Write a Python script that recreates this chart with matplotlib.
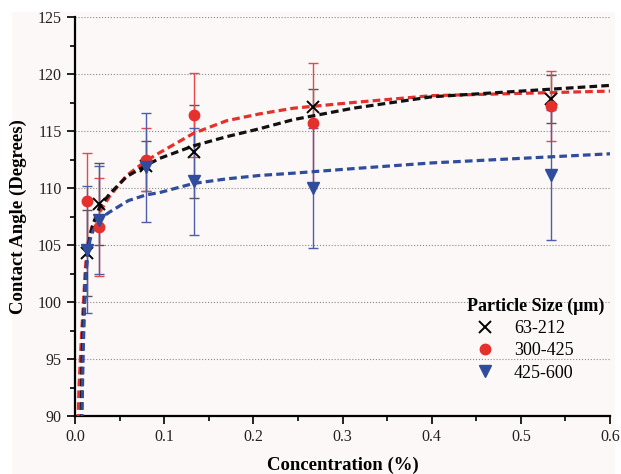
import numpy as np
import matplotlib
matplotlib.use("Agg")
import matplotlib.pyplot as plt
from matplotlib.patches import Rectangle
from matplotlib.ticker import MultipleLocator

plt.rcParams['font.family'] = ['Liberation Serif', 'DejaVu Serif']

# measured contact angles
conc = [0.0133, 0.0267, 0.08, 0.1333, 0.2667, 0.5333]
labels = ["63-212", "300-425", "425-600"]
angle_63 = [104.3, 108.6, 111.9, 113.2, 117.1, 117.8]
err_63 = [3.8, 3.6, 2.2, 4.1, 1.6, 2.1]
angle_300 = [108.9, 106.6, 112.5, 116.4, 115.7, 117.2]
err_300 = [4.2, 4.3, 2.8, 3.7, 5.3, 3.1]
angle_425 = [104.6, 107.2, 111.8, 110.6, 110.0, 111.1]
err_425 = [5.6, 4.7, 4.8, 4.7, 5.3, 5.7]

# fitted trend lines
fit_x_63 = [0.0071, 0.0078, 0.009, 0.0105, 0.012, 0.0135, 0.016, 0.02, 0.028, 0.039,
            0.058, 0.08, 0.095, 0.133, 0.17, 0.207, 0.245, 0.312, 0.4, 0.5, 0.6]
fit_y_63 = [89.5, 94.5, 97.8, 99.9, 102.0, 103.9, 105.4, 106.8, 108.4, 109.5,
            111.0, 112.0, 112.6, 113.7, 114.5, 115.2, 116.0, 117.0, 118.0, 118.5, 119.0]
fit_x_300 = [0.0034, 0.0045, 0.006, 0.008, 0.0097, 0.0115, 0.0134, 0.016, 0.02, 0.027,
             0.039, 0.058, 0.08, 0.095, 0.133, 0.17, 0.207, 0.245, 0.312, 0.4, 0.5, 0.6]
fit_y_300 = [89.5, 92.5, 95.0, 98.0, 100.2, 102.8, 104.6, 105.8, 106.8, 107.8,
             109.3, 111.1, 112.4, 113.1, 114.8, 115.9, 116.5, 117.0, 117.5, 118.1, 118.3, 118.5]
fit_x_425 = [0.0078, 0.0085, 0.0095, 0.011, 0.0125, 0.014, 0.017, 0.0205, 0.028, 0.039,
             0.06, 0.08, 0.095, 0.133, 0.17, 0.207, 0.245, 0.312, 0.4, 0.5, 0.6]
fit_y_425 = [89.5, 93.0, 96.5, 100.0, 102.6, 104.2, 105.5, 106.3, 107.3, 107.9,
             108.9, 109.4, 109.6, 110.4, 110.8, 111.1, 111.3, 111.7, 112.2, 112.6, 113.0]

fig = plt.figure(figsize=(6.21, 4.74), dpi=100, facecolor="white")
fig.patches.append(Rectangle((12 / 621, 0), 603 / 621, 462 / 474, transform=fig.transFigure,
                             facecolor="#fcf8f7", edgecolor="none", zorder=-10))
ax = fig.add_axes([75 / 621, 1 - 416 / 474, 535 / 621, 399 / 474])
ax.set_facecolor("#fcf8f7")

# error bars first
ax.errorbar(conc, angle_63, yerr=err_63, fmt="none", ecolor="#555555", elinewidth=1, capsize=3.5, zorder=2)
ax.errorbar(conc, angle_300, yerr=err_300, fmt="none", ecolor="#e8484a", elinewidth=1, capsize=3.5, zorder=2)
ax.errorbar(conc, angle_425, yerr=err_425, fmt="none", ecolor="#4e5ea8", elinewidth=1, capsize=3.5, zorder=2)

# fit lines
ax.plot(fit_x_300, fit_y_300, color="#e5302c", lw=2.3, ls=(0, (2.4, 1.3)), zorder=3)
ax.plot(fit_x_63, fit_y_63, color="#111111", lw=2.3, ls=(0, (2.4, 1.3)), zorder=3)
ax.plot(fit_x_425, fit_y_425, color="#2f4d9c", lw=2.3, ls=(0, (2.4, 1.3)), zorder=3)

# points
ax.plot(conc, angle_63, "x", color="black", ms=8, mew=1.4, ls="none", label=labels[0], zorder=4)
ax.plot(conc, angle_300, "o", color="#e5302c", ms=7.5, ls="none", label=labels[1], zorder=4)
ax.plot(conc, angle_425, "v", color="#2f4d9c", ms=8.5, ls="none", label=labels[2], zorder=4)

ax.set_xlim(0, 0.6)
ax.set_ylim(90, 125)
ax.xaxis.set_major_locator(MultipleLocator(0.1))
ax.xaxis.set_minor_locator(MultipleLocator(0.05))
ax.yaxis.set_major_locator(MultipleLocator(5))
ax.yaxis.set_minor_locator(MultipleLocator(2.5))
ax.xaxis.set_major_formatter(matplotlib.ticker.FormatStrFormatter("%.1f"))

ax.yaxis.grid(True, color="#8a8a8a", ls=":", lw=0.8)
gl = ax.get_ygridlines()
gl[0].set_visible(False)
gl[-1].set_visible(False)

for s in ["top", "right"]:
    ax.spines[s].set_visible(False)
for s in ["left", "bottom"]:
    ax.spines[s].set_linewidth(1.6)
ax.tick_params(which="major", direction="out", length=6, width=1.4, labelsize=11.5, colors="#222222")
ax.tick_params(which="minor", direction="out", length=3.5, width=1.2)

ax.set_xlabel("Concentration (%)", fontsize=13.5, fontweight="bold", labelpad=8)
ax.set_ylabel("Contact Angle (Degrees)", fontsize=13.5, fontweight="bold", labelpad=8)

leg = ax.legend(title="Particle Size (\u03bcm)", loc="lower right", bbox_to_anchor=(1.02, 0.045),
                frameon=False, fontsize=13, handletextpad=0.6, labelspacing=0.3)
plt.setp(leg.get_title(), fontweight="bold", fontsize=13)
leg._legend_box.align = "left"

fig.savefig("out.png", dpi=100, facecolor=fig.get_facecolor())
